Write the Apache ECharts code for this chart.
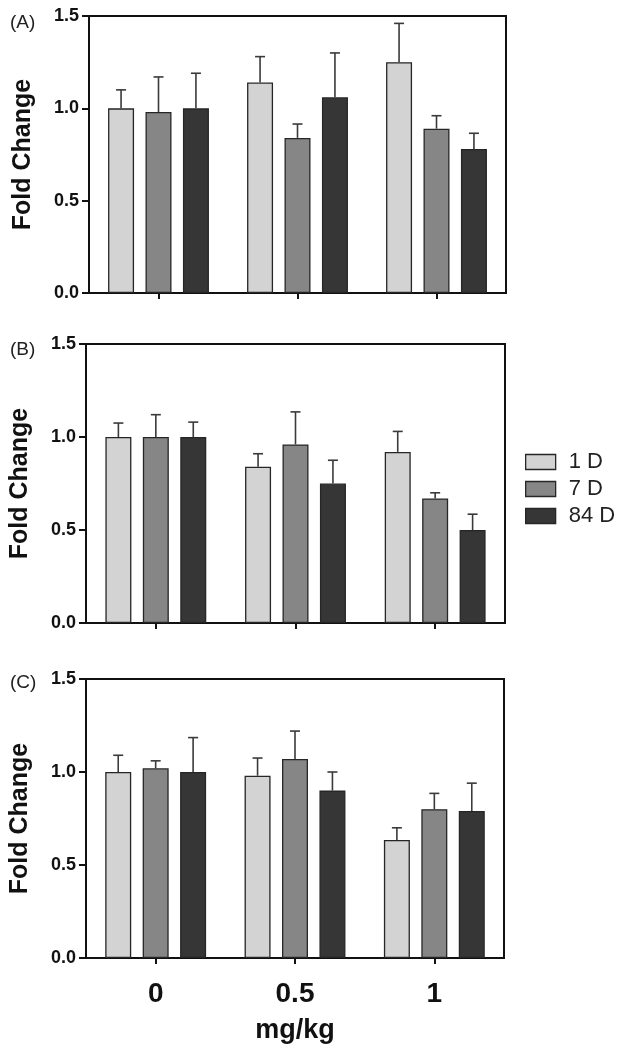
<!DOCTYPE html>
<html>
<head>
<meta charset="utf-8">
<script src="https://cdn.jsdelivr.net/npm/echarts@6/dist/echarts.min.js"></script>
<style>
  html, body { margin: 0; padding: 0; background: #fff; }
  #chart { width: 620px; height: 1050px; }
</style>
</head>
<body>
<div id="chart"></div>
<script>
// ---- data ----
const categories = ['0', '0.5', '1'];
const seriesNames = ['1 D', '7 D', '84 D'];
const panelLabels = ['(A)', '(B)', '(C)'];
const yTicks = [0, 0.5, 1.0, 1.5];

// Panel A: means and error-bar tops
const aMean1D = [1.00, 1.14, 1.25];
const aTop1D  = [1.10, 1.28, 1.46];
const aMean7D = [0.98, 0.84, 0.89];
const aTop7D  = [1.17, 0.915, 0.96];
const aMean84D = [1.00, 1.06, 0.78];
const aTop84D  = [1.19, 1.30, 0.865];

// Panel B
const bMean1D = [1.00, 0.84, 0.92];
const bTop1D  = [1.075, 0.91, 1.03];
const bMean7D = [1.00, 0.96, 0.67];
const bTop7D  = [1.12, 1.135, 0.70];
const bMean84D = [1.00, 0.75, 0.50];
const bTop84D  = [1.08, 0.875, 0.585];

// Panel C
const cMean1D = [1.00, 0.98, 0.635];
const cTop1D  = [1.09, 1.075, 0.70];
const cMean7D = [1.02, 1.07, 0.80];
const cTop7D  = [1.06, 1.22, 0.885];
const cMean84D = [1.00, 0.90, 0.79];
const cTop84D  = [1.185, 1.00, 0.94];

// ---- style / layout ----
const FONT = '"Liberation Sans", Arial, Helvetica, sans-serif';
const barColors = ['#d3d3d3', '#868686', '#363636'];
const BAR_W = 26;
const BAR_GAP = 0.44;
const grids = [
  { left: 89, top: 16, width: 417, height: 277 },
  { left: 86, top: 344, width: 419, height: 279 },
  { left: 85, top: 679, width: 419, height: 279 }
];
const labelCenters = [19, 346, 679];

const panels = [
  { means: [aMean1D, aMean7D, aMean84D], tops: [aTop1D, aTop7D, aTop84D] },
  { means: [bMean1D, bMean7D, bMean84D], tops: [bTop1D, bTop7D, bTop84D] },
  { means: [cMean1D, cMean7D, cMean84D], tops: [cTop1D, cTop7D, cTop84D] }
];

const chart = echarts.init(document.getElementById('chart'), null, { renderer: 'canvas' });

const gridOpts = [], xAxes = [], yAxes = [], series = [], titles = [];

panels.forEach((p, g) => {
  gridOpts.push(Object.assign({
    show: true, borderColor: '#111', borderWidth: 2, backgroundColor: 'transparent', containLabel: false
  }, grids[g]));
  titles.push({
    text: panelLabels[g], left: 5, top: labelCenters[g] - 11,
    textStyle: { fontFamily: FONT, fontSize: 19, fontWeight: 'normal', color: '#222' }
  });
  const last = g === panels.length - 1;
  xAxes.push({
    type: 'category', gridIndex: g, data: categories, boundaryGap: true,
    axisLine: { show: true, lineStyle: { color: '#111', width: 2 } },
    axisTick: { show: true, alignWithLabel: true, length: 6, lineStyle: { color: '#111', width: 2 } },
    axisLabel: { show: last, margin: 22, fontFamily: FONT, fontSize: 28, fontWeight: 'bold', color: '#111' },
    name: last ? 'mg/kg' : '', nameLocation: 'middle', nameGap: 59,
    nameTextStyle: { fontFamily: FONT, fontSize: 27, fontWeight: 'bold', color: '#111' },
    splitLine: { show: false }
  });
  yAxes.push({
    type: 'value', gridIndex: g, min: yTicks[0], max: yTicks[yTicks.length - 1], interval: 0.5,
    axisLine: { show: true, lineStyle: { color: '#111', width: 2 } },
    axisTick: { show: true, length: 7, lineStyle: { color: '#111', width: 2 } },
    axisLabel: { margin: 10, fontFamily: FONT, fontSize: 18, fontWeight: 'bold', color: '#111',
      formatter: v => v.toFixed(1) },
    splitLine: { show: false },
    name: 'Fold Change', nameLocation: 'middle', nameGap: 53,
    nameTextStyle: { fontFamily: FONT, fontSize: 25, fontWeight: 'bold', color: '#111' }
  });
  p.means.forEach((m, k) => {
    series.push({
      type: 'bar', name: seriesNames[k], xAxisIndex: g, yAxisIndex: g,
      data: m, barWidth: BAR_W, barGap: (BAR_GAP * 100) + '%',
      itemStyle: { color: barColors[k], borderColor: '#262626', borderWidth: 1.3 },
      emphasis: { disabled: true }, z: 2
    });
  });
  p.means.forEach((m, k) => {
    const data = m.map((v, i) => [i, v, p.tops[k][i]]);
    const off = (k - 1) * BAR_W * (1 + BAR_GAP);
    series.push({
      type: 'custom', name: 'err' + g + k, xAxisIndex: g, yAxisIndex: g, z: 3,
      data: data, encode: { x: 0, y: [1, 2] },
      renderItem: function (params, api) {
        const c = api.value(0);
        const p0 = api.coord([c, api.value(1)]);
        const p1 = api.coord([c, api.value(2)]);
        const x = p0[0] + off;
        const st = { stroke: '#3a3a3a', lineWidth: 1.6 };
        return {
          type: 'group',
          children: [
            { type: 'line', shape: { x1: x, y1: p0[1], x2: x, y2: p1[1] }, style: st },
            { type: 'line', shape: { x1: x - 5, y1: p1[1], x2: x + 5, y2: p1[1] }, style: st }
          ]
        };
      }
    });
  });
});

chart.setOption({
  animation: false,
  backgroundColor: '#fff',
  title: titles,
  grid: gridOpts,
  xAxis: xAxes,
  yAxis: yAxes,
  legend: {
    data: seriesNames, orient: 'vertical', left: 520, top: 446,
    icon: 'rect', itemWidth: 30, itemHeight: 15, itemGap: 5,
    itemStyle: { borderColor: '#262626', borderWidth: 1.3 },
    textStyle: { fontFamily: FONT, fontSize: 22, color: '#222', padding: [0, 0, 0, 8] },
    selectedMode: false
  },
  series: series
});
</script>
</body>
</html>
